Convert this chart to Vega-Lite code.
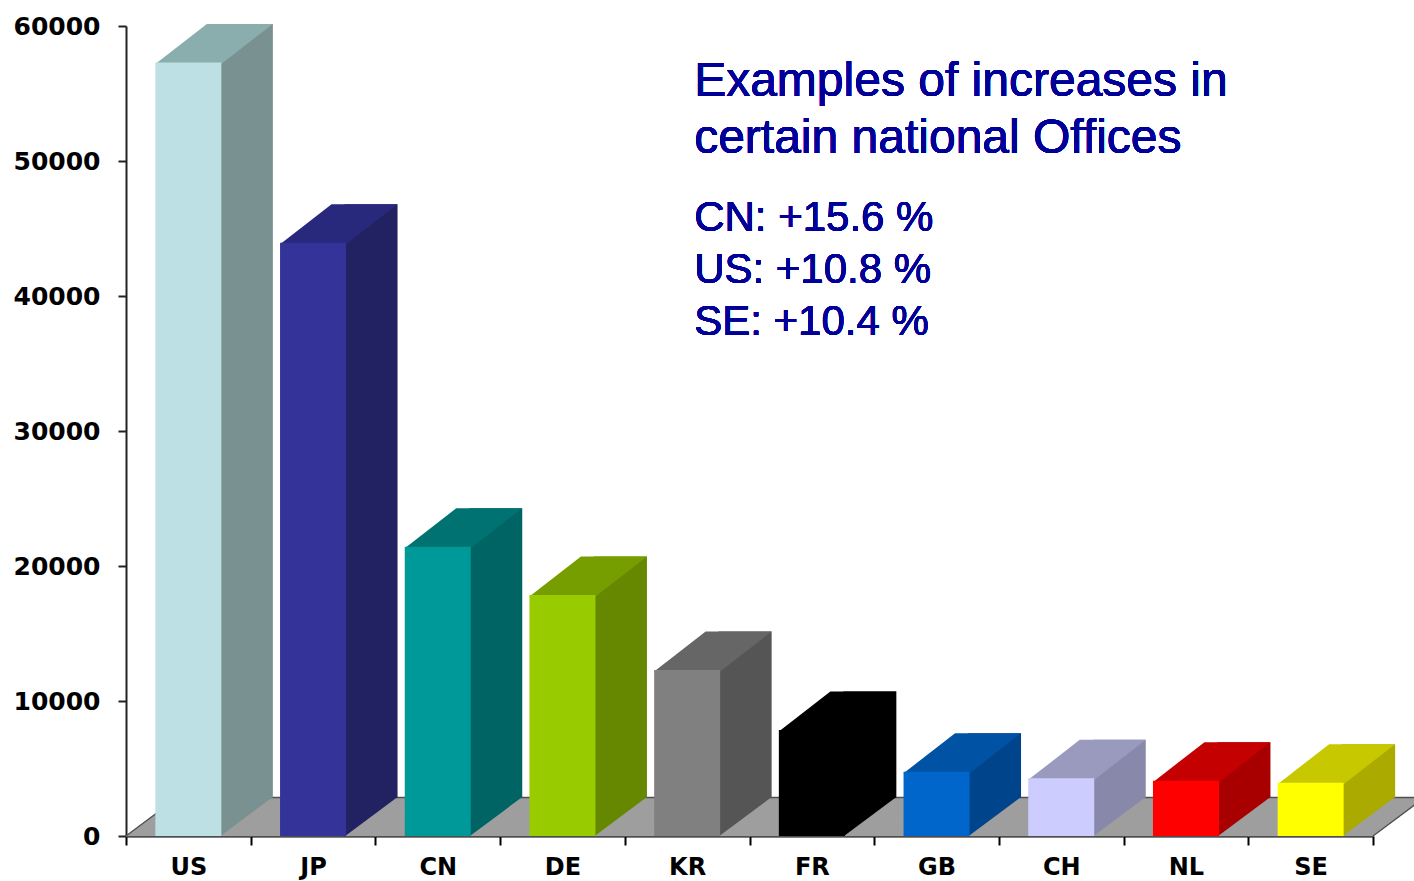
{
  "$schema": "https://vega.github.io/schema/vega-lite/v6.json",
  "width": 1247,
  "height": 810,
  "autosize": {"type": "none"},
  "padding": {"left": 126, "top": 26, "right": 41, "bottom": 45},
  "background": "white",
  "config": {
    "view": {"stroke": null},
    "font": "DejaVu Sans",
    "axisY": {
      "grid": false,
      "domainColor": "#222222",
      "domainWidth": 2,
      "tickColor": "#222222",
      "tickWidth": 2,
      "tickSize": 8,
      "labelFont": "DejaVu Sans",
      "labelFontWeight": "bold",
      "labelFontSize": 25,
      "labelColor": "black",
      "labelPadding": 18,
      "zindex": 1
    },
    "axisX": {
      "grid": false,
      "domainColor": "#000000",
      "domainWidth": 2,
      "tickColor": "#000000",
      "tickWidth": 2,
      "tickSize": 9,
      "labelFont": "DejaVu Sans",
      "labelFontWeight": "bold",
      "labelFontSize": 24,
      "labelColor": "black",
      "labelPadding": 10,
      "labelAngle": 0,
      "zindex": 1
    }
  },
  "data": {
    "values": [
      {"country": "US", "value": 57300},
      {"country": "JP", "value": 43950},
      {"country": "CN", "value": 21430},
      {"country": "DE", "value": 17850},
      {"country": "KR", "value": 12300},
      {"country": "FR", "value": 7850},
      {"country": "GB", "value": 4760},
      {"country": "CH", "value": 4270},
      {"country": "NL", "value": 4100},
      {"country": "SE", "value": 3950}
    ]
  },
  "encoding": {
    "x": {
      "field": "country",
      "type": "nominal",
      "sort": null,
      "scale": {"paddingInner": 0, "paddingOuter": 0},
      "axis": {"title": null, "tickBand": "extent"}
    }
  },
  "layer": [
    {
      "mark": {"type": "point", "shape": "M-62.35,0 L62.35,0 L113.85,-38.5 L-10.85,-38.5 Z", "size": 4, "filled": true, "opacity": 1, "fill": "#9E9E9E", "stroke": "#9E9E9E", "strokeWidth": 1},
      "encoding": {
        "y": {"datum": 0, "type": "quantitative", "scale": {"domain": [0, 60000], "nice": false}, "title": null, "axis": {"values": [0, 10000, 20000, 30000, 40000, 50000, 60000], "format": "d", "title": null}}
      }
    },
    {
      "mark": {"type": "point", "shape": "M-10.85,-38.5 L113.85,-38.5", "size": 4, "filled": false, "opacity": 1, "stroke": "#505050", "strokeWidth": 1.3},
      "encoding": {
        "y": {"datum": 0, "type": "quantitative", "scale": {"domain": [0, 60000], "nice": false}, "title": null}
      }
    },
    {
      "transform": [{"filter": "datum.country == 'US'"}],
      "mark": {"type": "point", "shape": "M-62.35,0 L-10.85,-38.5", "size": 4, "filled": false, "opacity": 1, "stroke": "#505050", "strokeWidth": 1.3},
      "encoding": {
        "y": {"datum": 0, "type": "quantitative", "scale": {"domain": [0, 60000], "nice": false}, "title": null}
      }
    },
    {
      "transform": [{"filter": "datum.country == 'SE'"}],
      "mark": {"type": "point", "shape": "M62.35,0 L113.85,-38.5", "size": 4, "filled": false, "opacity": 1, "stroke": "#505050", "strokeWidth": 1.3},
      "encoding": {
        "y": {"datum": 0, "type": "quantitative", "scale": {"domain": [0, 60000], "nice": false}, "title": null}
      }
    },
    {
      "mark": {"type": "bar", "width": 53, "xOffset": 58, "yOffset": -38.5, "y2Offset": -38.5},
      "encoding": {
        "y": {"field": "value", "type": "quantitative", "scale": {"domain": [0, 60000], "nice": false}, "title": null},
        "y2": {"datum": 0},
        "color": {
          "field": "country", "type": "nominal", "legend": null,
          "scale": {"domain": ["US", "JP", "CN", "DE", "KR", "FR", "GB", "CH", "NL", "SE"],
                    "range": ["#7A9191", "#222262", "#006464", "#668800", "#555555", "#000000", "#00448C", "#8888AA", "#A80000", "#AAAA00"]}
        }
      }
    },
    {
      "mark": {"type": "point", "shape": "M31.5,0.5 L31.5,-39 L84.5,-39 Z", "size": 4, "filled": true, "opacity": 1},
      "encoding": {
        "y": {"datum": 0, "type": "quantitative", "scale": {"domain": [0, 60000], "nice": false}, "title": null},
        "color": {
          "field": "country", "type": "nominal", "legend": null,
          "scale": {"domain": ["US", "JP", "CN", "DE", "KR", "FR", "GB", "CH", "NL", "SE"],
                    "range": ["#7A9191", "#222262", "#006464", "#668800", "#555555", "#000000", "#00448C", "#8888AA", "#A80000", "#AAAA00"]}
        }
      }
    },
    {
      "mark": {"type": "point", "shape": "M-33,1.5 L33,1.5 L84.5,-38.5 L18.5,-38.5 Z", "size": 4, "filled": true, "opacity": 1},
      "encoding": {
        "y": {"field": "value", "type": "quantitative", "scale": {"domain": [0, 60000], "nice": false}, "title": null},
        "color": {
          "field": "country", "type": "nominal", "legend": null,
          "scale": {"domain": ["US", "JP", "CN", "DE", "KR", "FR", "GB", "CH", "NL", "SE"],
                    "range": ["#8AADAD", "#28287C", "#007272", "#779E00", "#666666", "#000000", "#0052A4", "#9A9ABE", "#C40000", "#C8C800"]}
        }
      }
    },
    {
      "mark": {"type": "bar", "width": 66},
      "encoding": {
        "y": {"field": "value", "type": "quantitative", "scale": {"domain": [0, 60000], "nice": false}, "title": null},
        "y2": {"datum": 0},
        "color": {
          "field": "country", "type": "nominal", "legend": null,
          "scale": {"domain": ["US", "JP", "CN", "DE", "KR", "FR", "GB", "CH", "NL", "SE"],
                    "range": ["#BCE0E4", "#333399", "#009999", "#99CC00", "#808080", "#000000", "#0066CC", "#CCCCFF", "#FF0000", "#FFFF00"]}
        }
      }
    },
    {
      "mark": {"type": "text", "text": ["Examples of increases in", "certain national Offices"], "font": "Liberation Sans", "fontSize": 48, "lineHeight": 57, "align": "left", "baseline": "alphabetic", "color": "#000099", "dx": 7},
      "encoding": {
        "x": {"datum": "KR"},
        "y": {"datum": 54800, "type": "quantitative", "scale": {"domain": [0, 60000], "nice": false}}
      }
    },
    {
      "mark": {"type": "text", "text": ["CN: +15.6 %", "US: +10.8 %", "SE: +10.4 %"], "font": "Liberation Sans", "fontSize": 42, "lineHeight": 52, "align": "left", "baseline": "alphabetic", "color": "#000099", "dx": 7},
      "encoding": {
        "x": {"datum": "KR"},
        "y": {"datum": 44800, "type": "quantitative", "scale": {"domain": [0, 60000], "nice": false}}
      }
    }
  ],
  "resolve": {"scale": {"color": "independent"}}
}
